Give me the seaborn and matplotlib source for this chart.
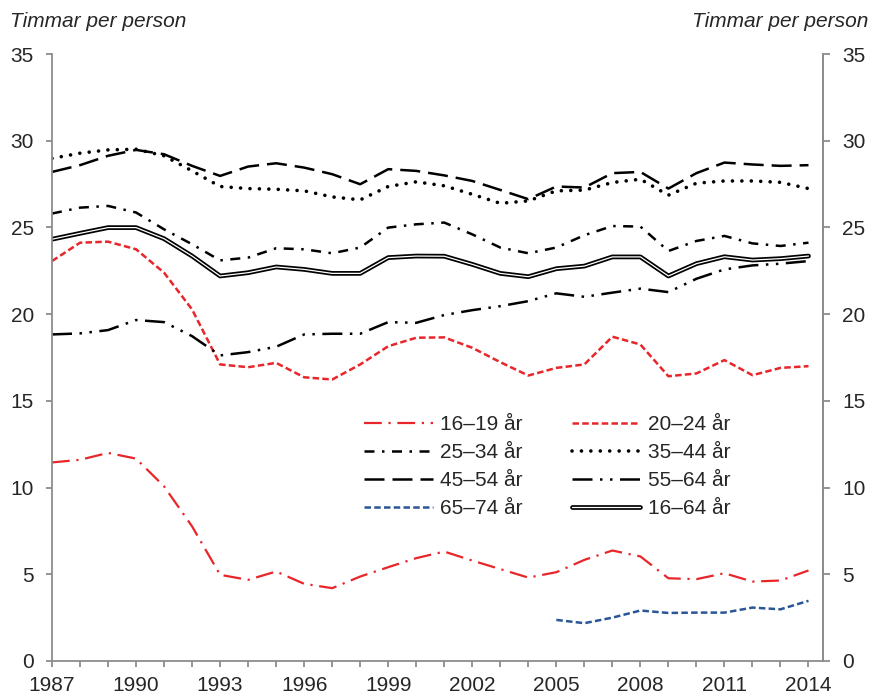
import matplotlib
matplotlib.use("Agg")
import matplotlib.pyplot as plt
import matplotlib.patheffects as pe
import seaborn as sns
import pandas as pd

# ---------------- data ----------------
years = list(range(1987, 2015))
years_65_74 = list(range(2005, 2015))

v16_19 = [11.45, 11.6, 12.0, 11.67, 10.07, 7.76, 4.97, 4.68, 5.16, 4.45, 4.2, 4.87, 5.41, 5.93,
          6.31, 5.79, 5.3, 4.81, 5.12, 5.83, 6.37, 6.03, 4.77, 4.72, 5.06, 4.58, 4.64, 5.22]
v20_24 = [23.06, 24.12, 24.18, 23.74, 22.39, 20.27, 17.1, 16.94, 17.19, 16.36, 16.23, 17.1, 18.15, 18.64,
          18.66, 18.06, 17.23, 16.46, 16.9, 17.1, 18.7, 18.25, 16.42, 16.58, 17.35, 16.48, 16.9, 17.0]
v25_34 = [25.8, 26.14, 26.24, 25.86, 24.89, 24.03, 23.1, 23.26, 23.8, 23.74, 23.51, 23.84, 24.99, 25.18,
          25.28, 24.6, 23.84, 23.51, 23.84, 24.55, 25.08, 25.05, 23.64, 24.22, 24.51, 24.08, 23.93, 24.12]
v35_44 = [28.98, 29.28, 29.47, 29.51, 29.13, 28.26, 27.36, 27.24, 27.2, 27.11, 26.76, 26.59, 27.36, 27.63,
          27.4, 26.91, 26.39, 26.53, 27.11, 27.15, 27.59, 27.78, 26.86, 27.55, 27.68, 27.68, 27.6, 27.24]
v45_54 = [28.2, 28.59, 29.13, 29.47, 29.22, 28.55, 27.97, 28.51, 28.7, 28.45, 28.07, 27.49, 28.36, 28.26,
          28.0, 27.68, 27.16, 26.63, 27.36, 27.3, 28.13, 28.2, 27.24, 28.13, 28.74, 28.63, 28.55, 28.59]
v55_64 = [18.83, 18.89, 19.08, 19.66, 19.54, 18.73, 17.62, 17.81, 18.12, 18.83, 18.87, 18.87, 19.54, 19.5,
          19.95, 20.23, 20.46, 20.75, 21.2, 21.0, 21.24, 21.47, 21.27, 22.04, 22.58, 22.81, 22.91, 23.06]
v65_74 = [2.37, 2.18, 2.5, 2.91, 2.77, 2.79, 2.79, 3.08, 2.98, 3.47]
v16_64 = [24.32, 24.66, 24.99, 24.99, 24.35, 23.35, 22.2, 22.39, 22.72, 22.58, 22.35, 22.35, 23.26, 23.35,
          23.34, 22.87, 22.35, 22.16, 22.62, 22.77, 23.3, 23.3, 22.2, 22.91, 23.31, 23.12, 23.2, 23.35]

labels = ["16–19 år", "20–24 år", "25–34 år", "35–44 år", "45–54 år", "55–64 år", "65–74 år", "16–64 år"]
y_ticks = [0, 5, 10, 15, 20, 25, 30, 35]
x_tick_labels = [str(y) if (y - 1987) % 3 == 0 else "" for y in years]
axis_title = "Timmar per person"

# ---------------- style ----------------
sns.set_style("white")
plt.rcParams["font.family"] = ["Liberation Sans", "DejaVu Sans"]
plt.rcParams["font.size"] = 15

RED = "#E8262A"
BLUE = "#2A5597"
GRAY = "#8C8C8C"

fig = plt.figure(figsize=(8.72, 6.98), dpi=100)
ax = fig.add_axes([52 / 872, 1 - 661 / 698, (822.5 - 52) / 872, (661 - 54) / 698])

series = [
    (years, v16_19, RED, 1.6, (0, (8, 3, 1, 3)), "butt"),
    (years, v20_24, RED, 1.8, (0, (2.6, 1.3)), "butt"),
    (years, v25_34, "black", 1.8, (0, (4, 3, 1, 3)), "butt"),
    (years, v35_44, "black", 2.6, (0, (0.01, 2.6)), "round"),
    (years, v45_54, "black", 1.8, (0, (8, 3.2)), "butt"),
    (years, v55_64, "black", 1.8, (0, (8, 3, 1, 3, 1, 3)), "butt"),
    (years_65_74, v65_74, BLUE, 1.8, (0, (2.6, 1.3)), "butt"),
]

for (xs, ys, col, lw, ls, cap), lab in zip(series, labels[:7]):
    df = pd.DataFrame({"year": xs, "val": ys})
    sns.lineplot(data=df, x="year", y="val", ax=ax, color=col, linewidth=lw,
                 linestyle=ls, dash_capstyle=cap, label=lab, legend=False)

df = pd.DataFrame({"year": years, "val": v16_64})
sns.lineplot(data=df, x="year", y="val", ax=ax, color="white", linewidth=0.9,
             label=labels[7], legend=False,
             path_effects=[pe.Stroke(linewidth=3.4, foreground="black"), pe.Normal()])

ax.set_xlim(1987, 2014.5)
ax.set_ylim(0, 35)
ax.set_xlabel("")
ax.set_ylabel("")
ax.set_xticks(years)
ax.set_xticklabels(x_tick_labels)
ax.set_yticks(y_ticks)
ax.set_yticklabels([str(t) for t in y_ticks])

for s in ["left", "bottom", "right"]:
    ax.spines[s].set_color(GRAY)
    ax.spines[s].set_linewidth(1.3)
ax.spines["top"].set_visible(False)
ax.tick_params(axis="x", direction="out", length=4, width=1.3, color=GRAY, pad=7,
               labelsize=15, bottom=True)
ax.tick_params(axis="y", direction="out", length=4, width=1.3, color=GRAY, pad=9,
               labelsize=15, left=True)

ax2 = ax.twinx()
ax2.set_ylim(0, 35)
ax2.set_yticks(y_ticks)
ax2.set_yticklabels([str(t) for t in y_ticks])
for s in ["left", "bottom", "top"]:
    ax2.spines[s].set_visible(False)
ax2.spines["right"].set_color(GRAY)
ax2.spines["right"].set_linewidth(1.3)
ax2.tick_params(axis="y", direction="out", length=5, width=1.3, color=GRAY, pad=9,
                labelsize=15, right=True)

fig.text(10 / 872, 1 - 27 / 698, axis_title, style="italic", fontsize=15, ha="left", va="baseline")
fig.text(868 / 872, 1 - 27 / 698, axis_title, style="italic", fontsize=15, ha="right", va="baseline")

handles, labs = ax.get_legend_handles_labels()
order = [0, 2, 4, 6, 1, 3, 5, 7]
leg = ax.legend([handles[i] for i in order], [labs[i] for i in order], ncol=2,
                loc="upper left", bbox_to_anchor=(364 / 872, 1 - 415 / 698),
                bbox_transform=fig.transFigure, frameon=False, fontsize=15,
                handlelength=3.3, handletextpad=0.35, columnspacing=2.35,
                labelspacing=0.43, borderpad=0, borderaxespad=0)

fig.savefig("out.png", dpi=100)
